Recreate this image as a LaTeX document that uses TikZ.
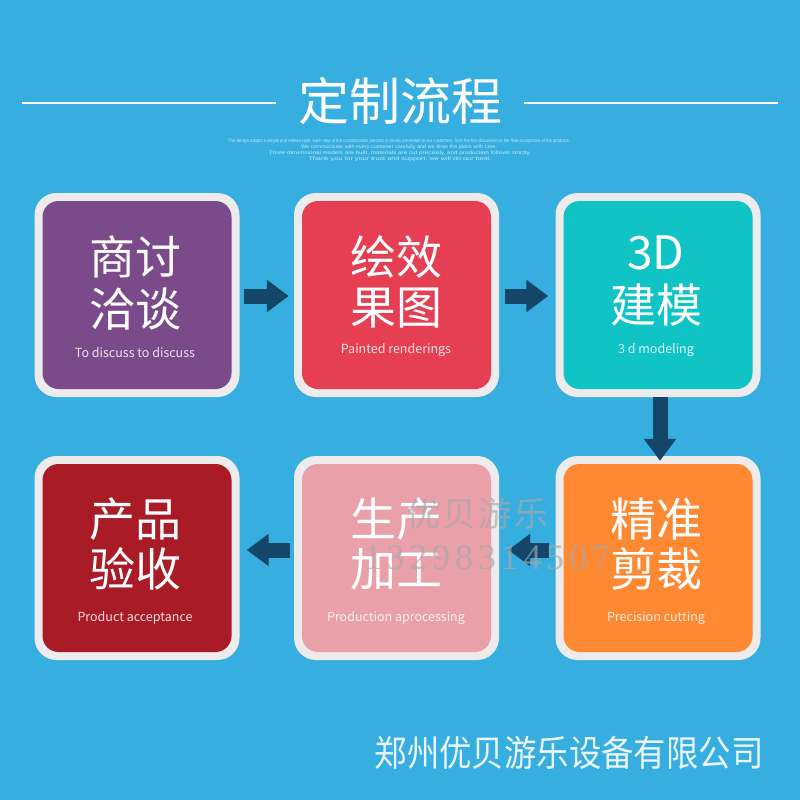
\documentclass[tikz,border=0pt]{standalone}
\usepackage{fontspec}
\usetikzlibrary{arrows.meta}
\newfontfamily\cjk{Noto Sans CJK SC}
\newfontfamily\tinyf{Liberation Sans}
\newfontfamily\wmserif{Liberation Serif}
\definecolor{bgblue}{HTML}{36AEE0}
\definecolor{rim}{HTML}{EDEBEB}
\definecolor{cpurple}{HTML}{7A4A8A}
\definecolor{cred}{HTML}{E63E52}
\definecolor{cteal}{HTML}{10C3C5}
\definecolor{cpink}{HTML}{E9A0A9}
\definecolor{corange}{HTML}{FF8833}
\definecolor{cdred}{HTML}{A81B27}
\definecolor{arrowc}{HTML}{14466A}
\definecolor{foot}{HTML}{EAF6FC}
\definecolor{wmgray}{HTML}{A9A9A9}
\tikzset{
  outerbox/.style={fill=rim, rounded corners=22pt, minimum width=205pt, minimum height=204pt, inner sep=0pt},
  innerbox/.style={rounded corners=16pt, minimum width=189pt, minimum height=188pt, inner sep=0pt},
  bigtxt/.style={text=white, font=\cjk\fontsize{46}{46}\selectfont, inner sep=0pt},
  subtxt/.style={text=white, text opacity=0.85, font=\cjk\fontsize{12.5}{12.5}\selectfont, inner sep=0pt},
  flowarrow/.style={draw=arrowc, line width=15pt, -{Triangle[width=31pt,length=22pt]}},
  wmtxt/.style={font=\cjk\fontsize{34}{34}\selectfont, inner sep=0pt, text=wmgray, text opacity=0.65},
  wmnum/.style={font=\wmserif\fontsize{36}{36}\selectfont, inner sep=0pt, text=wmgray, text opacity=0.65},
  tinytxt/.style={text=white, text opacity=0.7, inner sep=0pt}
}
\begin{document}
\begin{tikzpicture}[x=1pt,y=-1pt]
\fill[bgblue] (0,0) rectangle (800,800);
\useasboundingbox (0,0) rectangle (800,800);

% title
\node[text=white, font=\cjk\fontsize{51}{51}\selectfont, inner sep=0pt] (title) at (400,101) {定制流程};
\coordinate (l1) at (22,103);
\coordinate (r1) at (778,103);
\draw[white, line width=2pt] (l1) -- ([xshift=-22pt]title.west |- l1);
\draw[white, line width=2pt] ([xshift=22pt]title.east |- r1) -- (r1);

% tiny text
\node[tinytxt] (t1) at (399,141) {\resizebox{342pt}{3.6pt}{\tinyf This design adopts a simple and refined style, each step of the customization process is clearly presented to our customers, from the first discussion to the final acceptance of the products.}};
\node[tinytxt] (t2) at (399,147) {\resizebox{196pt}{3.6pt}{\tinyf We communicate with every customer carefully and we draw the plans with care.}};
\node[tinytxt] (t3) at (400,153) {\resizebox{262pt}{3.6pt}{\tinyf Three dimensional models are built, materials are cut precisely, and production follows strictly.}};
\node[tinytxt] (t4) at (400,159) {\resizebox{183pt}{3.6pt}{\tinyf Thank you for your trust and support, we will do our best.}};

% boxes row 1
\node[outerbox] (b1) at (137,295) {};
\node[innerbox, fill=cpurple] (i1) at (b1.center) {};
\node[outerbox] (b2) at (396.5,295) {};
\node[innerbox, fill=cred] (i2) at (b2.center) {};
\node[outerbox] (b3) at (658,295) {};
\node[innerbox, fill=cteal] (i3) at (b3.center) {};
% boxes row 2
\node[outerbox] (b4) at (137,558) {};
\node[innerbox, fill=cdred] (i4) at (b4.center) {};
\node[outerbox] (b5) at (396.5,558) {};
\node[innerbox, fill=cpink] (i5) at (b5.center) {};
\node[outerbox] (b6) at (658,558) {};
\node[innerbox, fill=corange] (i6) at (b6.center) {};

% texts row 1
\node[bigtxt] (a1) at (135,257) {商讨};
\node[bigtxt] (a2) at (135,309) {洽谈};
\node[subtxt] (a3) at (135,353) {To discuss to discuss};
\node[bigtxt] (c1) at (396,257) {绘效};
\node[bigtxt] (c2) at (396,308) {果图};
\node[subtxt] (c3) at (396,350) {Painted renderings};
\node[bigtxt] (d1) at (656,253) {3D};
\node[bigtxt] (d2) at (656,305) {建模};
\node[subtxt] (d3) at (656,350) {3 d modeling};
% texts row 2
\node[bigtxt] (e1) at (135,519) {产品};
\node[bigtxt] (e2) at (135,569) {验收};
\node[subtxt] (e3) at (135,618) {Product acceptance};
\node[bigtxt] (f1) at (396,519) {生产};
\node[bigtxt] (f2) at (396,569) {加工};
\node[subtxt] (f3) at (396,618) {Production aprocessing};
\node[bigtxt] (g1) at (656,519) {精准};
\node[bigtxt] (g2) at (656,569) {剪裁};
\node[subtxt] (g3) at (656,618) {Precision cutting};

% arrows
\draw[flowarrow, shorten <=4pt, shorten >=5pt] ([yshift=-1pt]b1.east) -- ([yshift=-1pt]b2.west);
\draw[flowarrow, shorten <=6pt, shorten >=7pt] ([yshift=-1pt]b2.east) -- ([yshift=-1pt]b3.west);
\draw[flowarrow, shorten >=-5pt] ([xshift=2pt]b3.south) -- ([xshift=2pt]b6.north);
\draw[flowarrow, shorten <=6pt, shorten >=9pt] ([yshift=8pt]b6.west) -- ([yshift=8pt]b5.east);
\draw[flowarrow, shorten <=4pt, shorten >=7pt] ([yshift=8pt]b5.west) -- ([yshift=8pt]b4.east);

% watermark
\foreach \ch [count=\k] in {优,贝,游,乐} {
  \node[wmtxt] (w\k) at (387+36*\k,514) {\ch};
}
\foreach \ch [count=\k] in {1,3,2,9,8,3,1,4,5,0,7} {
  \node[wmnum] (n\k) at (350+22.8*\k,558) {\ch};
}

% footer
\node[text=foot, font=\cjk\fontsize{36}{36}\selectfont, inner sep=0pt, xscale=0.9] (footer) at (569,753) {郑州优贝游乐设备有限公司};
\end{tikzpicture}
\end{document}
